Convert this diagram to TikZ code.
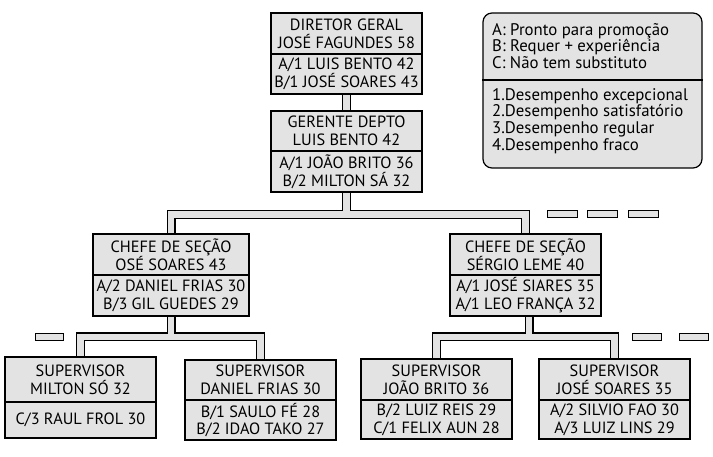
\documentclass[tikz,border=0pt]{standalone}
\usepackage{fontspec}
\setmainfont{PT Sans}
\usetikzlibrary{calc}
\definecolor{boxgray}{gray}{0.89}
\pgfdeclarelayer{bg}
\pgfsetlayers{bg,main}
\tikzset{
  orgpart/.style={draw=black, fill=boxgray, line width=1.2pt, inner sep=0pt, align=center,
    font=\fontsize{16.3}{17.8}\selectfont},
  pipeout/.style={draw=black, line width=9pt, line join=miter},
  pipein/.style={draw=boxgray, line width=6.2pt, line join=miter},
  dashbox/.style={draw=black, fill=boxgray, line width=1pt},
  legtext/.style={anchor=west, align=left, inner sep=0pt, font=\fontsize{16.8}{16.6}\selectfont}
}
% #1 name, #2 left, #3 right, #4 top, #5 divider, #6 bottom, #7 top text, #8 bottom text
\newcommand\orgbox[8]{%
  \node[orgpart, minimum width={#3-#2}, minimum height={#5-#4}] (#1) at ({(#2+#3)/2},{(#4+#5)/2}) {#7};
  \node[orgpart, minimum width={#3-#2}, minimum height={#6-#5}] (#1b) at ({(#2+#3)/2},{(#5+#6)/2}) {#8};
}
\begin{document}
\begin{tikzpicture}[x=1pt,y=-1pt]
\useasboundingbox (0,0) rectangle (713,457);

\orgbox{dir}{271}{422}{13}{54}{94}{DIRETOR GERAL\\JOSÉ FAGUNDES 58}{A/1 LUIS BENTO 42\\B/1 JOSÉ SOARES 43}
\orgbox{ger}{271}{422}{111}{151}{192}{GERENTE DEPTO\\LUIS BENTO 42}{A/1 JOÃO BRITO 36\\B/2 MILTON SÁ 32}
\orgbox{chl}{93}{249}{234}{275}{316}{CHEFE DE SEÇÃO\\OSÉ SOARES 43}{A/2 DANIEL FRIAS 30\\B/3 GIL GUEDES 29}
\orgbox{chr}{450}{601}{234}{275}{316}{CHEFE DE SEÇÃO\\SÉRGIO LEME 40}{A/1 JOSÉ SIARES 35\\A/1 LEO FRANÇA 32}
\orgbox{sa}{5}{156}{357}{402}{438}{SUPERVISOR\\MILTON SÓ 32}{C/3 RAUL FROL 30}
\orgbox{sb}{185}{336}{360}{400}{440}{SUPERVISOR\\DANIEL FRIAS 30}{B/1 SAULO FÉ 28\\B/2 IDAO TAKO 27}
\orgbox{sc}{361}{512}{359}{400}{439}{SUPERVISOR\\JOÃO BRITO 36}{B/2 LUIZ REIS 29\\C/1 FELIX AUN 28}
\orgbox{sd}{539}{690}{359}{400}{439}{SUPERVISOR\\JOSÉ SOARES 35}{A/2 SILVIO FAO 30\\A/3 LUIZ LINS 29}

% junctions
\coordinate (j1) at (346.5,214.5);
\coordinate (j2) at (170.5,337);
\coordinate (j3) at (529,337);

\begin{pgfonlayer}{bg}
  \foreach \st in {pipeout,pipein}{
    \draw[\st] (dirb.south) -- (ger.north);
    \draw[\st] (gerb.south) -- (j1);
    \draw[\st] (chl.north) |- (j1) -| (chr.north);
    \draw[\st] (chlb.south) -- (chlb.south |- j2);
    \draw[\st] (sa.north) |- (j2) -| (sb.north);
    \draw[\st] (j3 |- chrb.south) -- (j3);
    \draw[\st] (sc.north) |- (j3) -| (sd.north);
  }
\end{pgfonlayer}

% dashes (open positions)
\draw[dashbox] (547,211) rectangle (577,217.5);
\draw[dashbox] (587,211) rectangle (617,217.5);
\draw[dashbox] (628,211) rectangle (658,217.5);
\draw[dashbox] (35,334) rectangle (63,340.5);
\draw[dashbox] (632,334) rectangle (661,340.5);
\draw[dashbox] (679,334) rectangle (708,340.5);

% legend
\node[draw=black, fill=boxgray, line width=1.2pt, rounded corners=9pt, minimum width=219, minimum height=155, inner sep=0pt] (legend) at (592.5,90.5) {};
\draw[line width=1.2pt] (legend.west |- 0,80) -- (legend.east |- 0,80);
\node[legtext] (legA) at (492,46) {A: Pronto para promoção\\B: Requer + experiência\\C: Não tem substituto};
\node[legtext] (legN) at (492,121) {1.Desempenho excepcional\\2.Desempenho satisfatório\\3.Desempenho regular\\4.Desempenho fraco};
\end{tikzpicture}
\end{document}
